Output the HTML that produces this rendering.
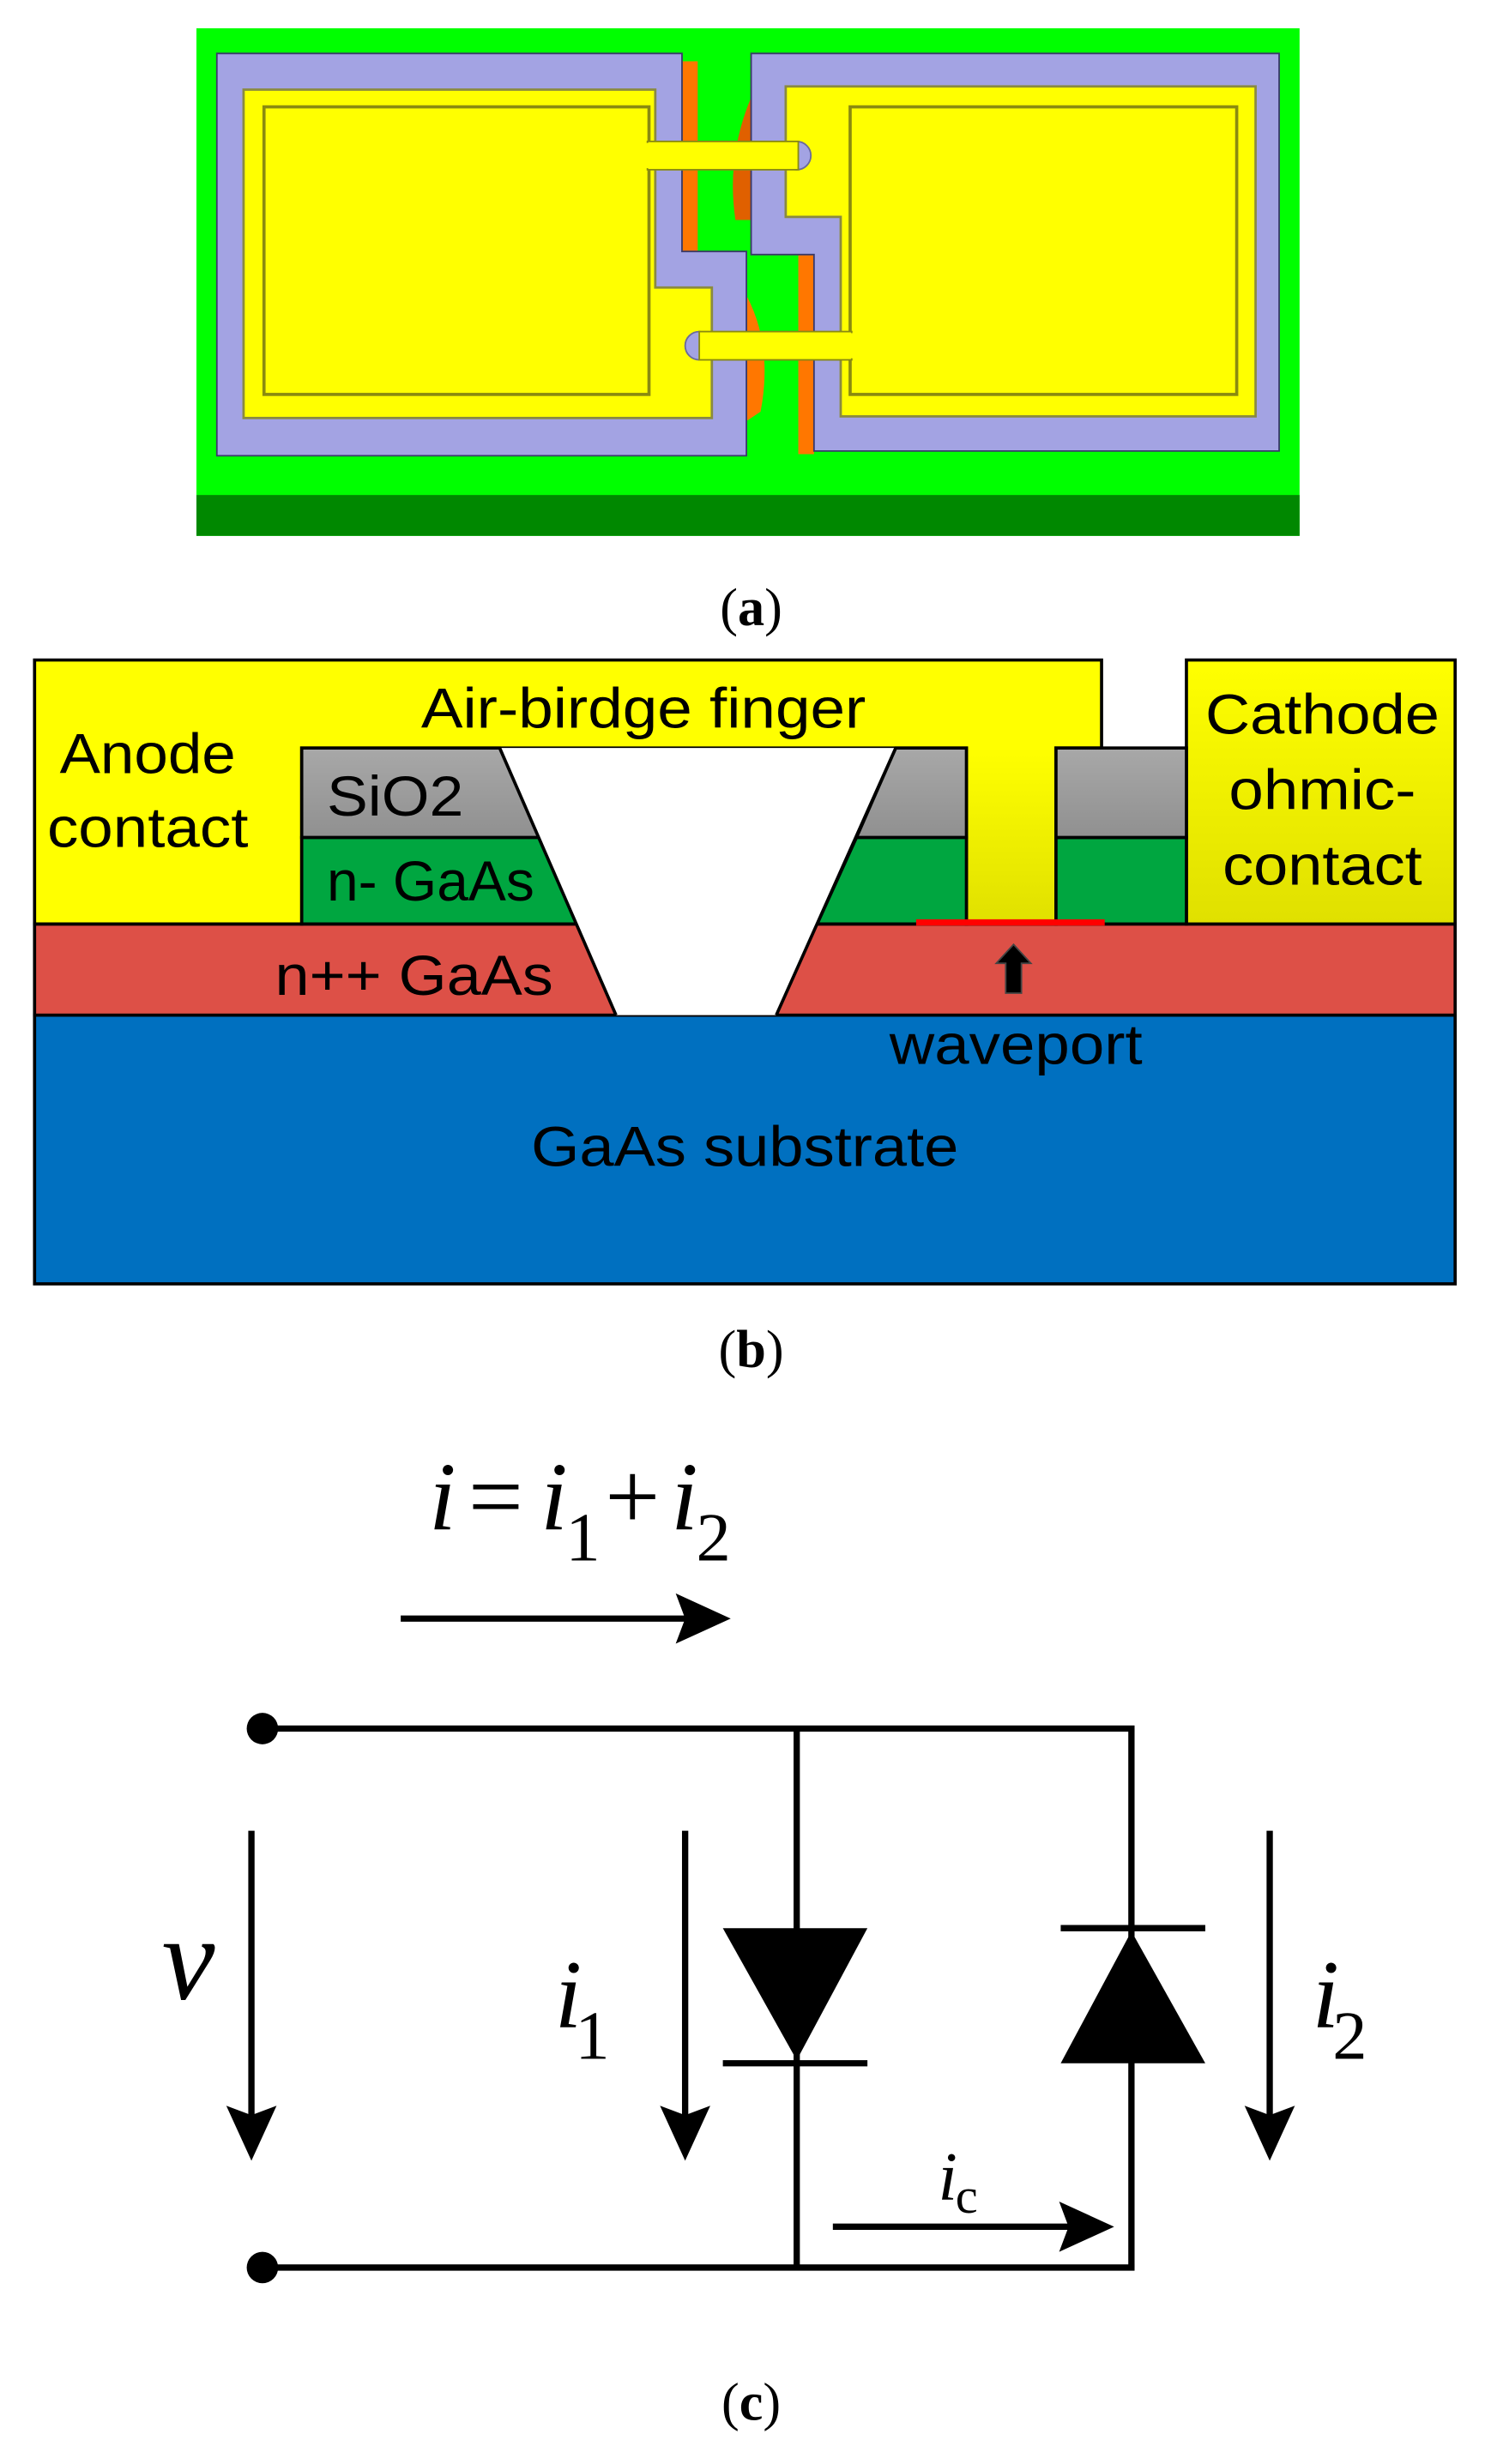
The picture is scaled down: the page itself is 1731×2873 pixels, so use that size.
<!DOCTYPE html>
<html><head><meta charset="utf-8"><style>html,body{margin:0;padding:0;background:#fff}svg{display:block}</style></head>
<body>
<svg width="1731" height="2873" viewBox="0 0 945 1568" preserveAspectRatio="none" xmlns="http://www.w3.org/2000/svg">
<defs>
<linearGradient id="gy" x1="0" y1="0" x2="0" y2="1"><stop offset="0" stop-color="#ffff00"/><stop offset="1" stop-color="#e0e000"/></linearGradient>
<linearGradient id="gg" x1="0" y1="0" x2="0" y2="1"><stop offset="0" stop-color="#a8a8a8"/><stop offset="1" stop-color="#909090"/></linearGradient>
</defs>
<!-- (a) -->
<rect x="125" y="18" width="702" height="323" fill="#00ff00"/>
<rect x="125" y="315" width="702" height="26" fill="#008800"/>
<rect x="434" y="39" width="10" height="121" fill="#ff7700"/>
<path d="M468,140 Q462,100 478,62 L478,140 Z" fill="#e06000"/>
<path d="M475,188 Q492,220 484,262 L475,268 Z" fill="#ff7700"/>
<rect x="508" y="162" width="10" height="127" fill="#ff7700"/>
<polygon points="138,34 434,34 434,160 475,160 475,290 138,290" fill="#a3a3e3" stroke="#3a3a6a" stroke-width="1"/>
<polygon points="478,34 814,34 814,287 518,287 518,162 478,162" fill="#a3a3e3" stroke="#3a3a6a" stroke-width="1"/>
<polygon points="155,57 417,57 417,183 453,183 453,266 155,266" fill="#ffff00" stroke="#8a8a40" stroke-width="1.5"/>
<polygon points="500,55 799,55 799,265 535,265 535,138 500,138" fill="#ffff00" stroke="#8a8a40" stroke-width="1.5"/>
<rect x="168" y="68" width="245" height="183" fill="#ffff00" stroke="#8a8a10" stroke-width="2"/>
<rect x="541" y="68" width="246" height="183" fill="#ffff00" stroke="#8a8a10" stroke-width="2"/>
<circle cx="507" cy="99" r="9" fill="#a3a3e3" stroke="#6a6a9a"/>
<rect x="412" y="90" width="96" height="18" fill="#ffff00" stroke="#8a8a10" stroke-width="1"/>
<rect x="408" y="91" width="8" height="16" fill="#ffff00"/>
<circle cx="445" cy="220" r="9" fill="#a3a3e3" stroke="#6a6a9a"/>
<rect x="445" y="211" width="97" height="18" fill="#ffff00" stroke="#8a8a10" stroke-width="1"/>
<rect x="538" y="212" width="8" height="16" fill="#ffff00"/>
<text x="478" y="398" font-family="Liberation Serif,serif" font-size="34" text-anchor="middle">(<tspan font-weight="bold">a</tspan>)</text>
<!-- (b) -->
<g stroke="#000" stroke-width="2">
<rect x="22" y="646" width="904" height="171" fill="#0070c0"/>
<rect x="22" y="588" width="904" height="58" fill="#dd5047"/>
<polygon points="22,420 701,420 701,476 672,476 672,588 615,588 615,476 192,476 192,588 22,588" fill="#ffff00"/>
<rect x="615" y="476" width="57" height="112" fill="url(#gy)" stroke="none"/>
<line x1="615" y1="476" x2="615" y2="588"/><line x1="672" y1="476" x2="672" y2="588"/>
<rect x="755" y="420" width="171" height="168" fill="url(#gy)"/>
<polygon points="192,476 318,476 343,533 192,533" fill="url(#gg)"/>
<polygon points="192,533 343,533 367,588 192,588" fill="#00a640"/>
<polygon points="570,476 615,476 615,533 545,533" fill="url(#gg)"/>
<polygon points="545,533 615,533 615,588 520,588" fill="#00a640"/>
<rect x="672" y="476" width="83" height="57" fill="url(#gg)"/>
<rect x="672" y="533" width="83" height="55" fill="#00a640"/>
<polygon points="318,476 570,476 494,646 392,646" fill="#fff" stroke="none"/>
<line x1="318" y1="476" x2="392" y2="646"/><line x1="570" y1="476" x2="494" y2="646"/>
</g>
<rect x="583" y="585" width="120" height="4" fill="#ff0000"/>
<polygon points="645,601 634,613 640,613 640,632 650,632 650,613 656,613" fill="#000" stroke="#444" stroke-width="1"/>
<g font-family="Liberation Sans,sans-serif" font-size="36" fill="#000" lengthAdjust="spacingAndGlyphs">
<text x="268" y="463" textLength="283" lengthAdjust="spacingAndGlyphs">Air-birdge finger</text>
<text x="38" y="492" textLength="112" lengthAdjust="spacingAndGlyphs">Anode</text>
<text x="30" y="539" textLength="128" lengthAdjust="spacingAndGlyphs">contact</text>
<text x="208" y="519" textLength="87" lengthAdjust="spacingAndGlyphs">SiO2</text>
<text x="208" y="573" textLength="132" lengthAdjust="spacingAndGlyphs">n- GaAs</text>
<text x="175" y="633" textLength="177" lengthAdjust="spacingAndGlyphs">n++ GaAs</text>
<text x="566" y="677" textLength="161" lengthAdjust="spacingAndGlyphs">waveport</text>
<text x="338" y="742" textLength="272" lengthAdjust="spacingAndGlyphs">GaAs substrate</text>
<text x="767" y="467" textLength="149" lengthAdjust="spacingAndGlyphs">Cathode</text>
<text x="782" y="515" textLength="119" lengthAdjust="spacingAndGlyphs">ohmic-</text>
<text x="778" y="563" textLength="127" lengthAdjust="spacingAndGlyphs">contact</text>
</g>
<text x="478" y="870" font-family="Liberation Serif,serif" font-size="34" text-anchor="middle">(<tspan font-weight="bold">b</tspan>)</text>
<!-- (c) -->
<g font-family="Liberation Serif,serif" font-style="italic" fill="#000">
<text x="273" y="973" font-size="62">i</text>
<text x="298" y="973" font-size="62" font-style="normal">=</text>
<text x="344" y="973" font-size="62">i</text>
<text x="360" y="993" font-size="44" font-style="normal">1</text>
<text x="385" y="973" font-size="62" font-style="normal">+</text>
<text x="427" y="973" font-size="62">i</text>
<text x="443" y="993" font-size="44" font-style="normal">2</text>
<text x="103" y="1272" font-size="76">v</text>
<text x="353" y="1290" font-size="62">i</text>
<text x="366" y="1310" font-size="44" font-style="normal">1</text>
<text x="835" y="1290" font-size="62">i</text>
<text x="848" y="1310" font-size="44" font-style="normal">2</text>
<text x="597" y="1400" font-size="44">i</text>
<text x="608" y="1408" font-size="32" font-style="normal">c</text>
</g>
<g stroke="#000" stroke-width="4" fill="none">
<line x1="167" y1="1100" x2="722" y2="1100"/>
<line x1="167" y1="1443" x2="722" y2="1443"/>
<line x1="507" y1="1100" x2="507" y2="1443"/>
<line x1="720" y1="1100" x2="720" y2="1443"/>
<line x1="460" y1="1313" x2="552" y2="1313"/>
<line x1="675" y1="1227" x2="767" y2="1227"/>
<line x1="255" y1="1030" x2="440" y2="1030"/>
<line x1="160" y1="1165" x2="160" y2="1350"/>
<line x1="436" y1="1165" x2="436" y2="1350"/>
<line x1="808" y1="1165" x2="808" y2="1350"/>
<line x1="530" y1="1417" x2="690" y2="1417"/>
</g>
<circle cx="167" cy="1100" r="10" fill="#000"/>
<circle cx="167" cy="1443" r="10" fill="#000"/>
<polygon points="460,1227 552,1227 507,1311" fill="#000"/>
<polygon points="675,1313 767,1313 720,1229" fill="#000"/>
<polygon points="465,1030 430,1014 436,1030 430,1046" fill="#000"/>
<polygon points="160,1375 144,1340 160,1346 176,1340" fill="#000"/>
<polygon points="436,1375 420,1340 436,1346 452,1340" fill="#000"/>
<polygon points="808,1375 792,1340 808,1346 824,1340" fill="#000"/>
<polygon points="709,1417 674,1401 680,1417 674,1433" fill="#000"/>
<text x="478" y="1540" font-family="Liberation Serif,serif" font-size="34" text-anchor="middle">(<tspan font-weight="bold">c</tspan>)</text>
</svg>
</body></html>
